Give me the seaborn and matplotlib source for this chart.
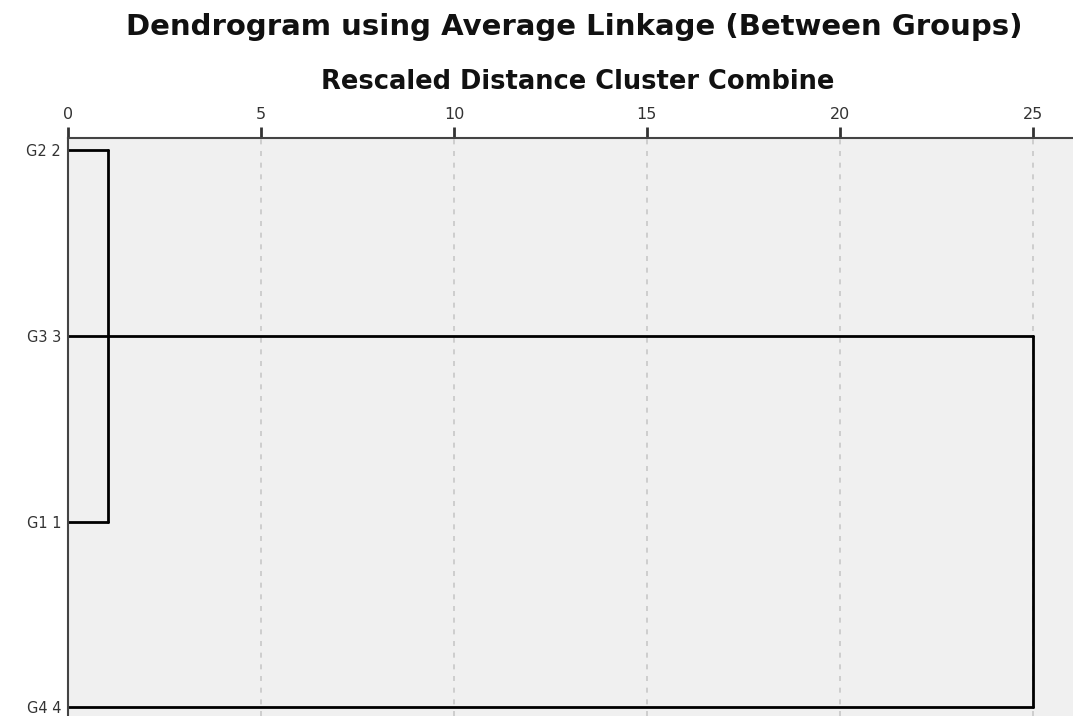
import pandas as pd
import numpy as np
import matplotlib.pyplot as plt
import seaborn as sns

# Leaves top -> bottom, and merge steps (rescaled distance)
leaves = ['G2 2', 'G3 3', 'G1 1', 'G4 4']
merge_a = ['G2 2', 'G2 2+G1 1', 'G2 2+G1 1+G3 3']
merge_b = ['G1 1', 'G3 3', 'G4 4']
merge_dist = [1.04, 1.04, 25.0]
x_ticks = [0, 5, 10, 15, 20, 25]

# Build dendrogram segments
pos = {name: i for i, name in enumerate(leaves)}
height = {name: 0.0 for name in leaves}
segs = []
sid = 0
for a, b, d in zip(merge_a, merge_b, merge_dist):
    for node in (a, b):
        segs += [(sid, height[node], pos[node]), (sid, d, pos[node])]
        sid += 1
    segs += [(sid, d, pos[a]), (sid, d, pos[b])]
    sid += 1
    new = a + '+' + b
    pos[new] = (pos[a] + pos[b]) / 2 if b != 'G3 3' else pos[b]
    height[new] = d
df = pd.DataFrame(segs, columns=['seg', 'dist', 'y'])

sns.set_theme(style="white")
plt.rcParams['font.family'] = ['DejaVu Sans']

fig = plt.figure(figsize=(10.73, 7.16), dpi=100)
ax = fig.add_axes([68 / 1073, 0.0, 1 - 68 / 1073, 0.807])
ax.set_facecolor('#f0f0f0')

sns.lineplot(data=df, x='dist', y='y', units='seg', estimator=None, sort=False,
             color='black', linewidth=2, ax=ax, legend=False)

for t in x_ticks[1:]:
    ax.axvline(t, color='#c8c8c8', linestyle=(0, (3, 4)), linewidth=1.2, zorder=0)

ax.set_xlim(0, 26.04)
ax.set_ylim(3.047, -0.065)
ax.xaxis.tick_top()
ax.set_xticks(x_ticks)
ax.set_yticks(range(len(leaves)))
ax.set_yticklabels(leaves)
ax.tick_params(axis='x', direction='out', length=8, width=2, color='#333333',
               labelsize=11.5, pad=4, top=True, labelcolor='#333333')
ax.tick_params(axis='y', left=True, length=0, labelsize=10.5, pad=5, labelcolor='#333333')
for s in ['right', 'bottom']:
    ax.spines[s].set_visible(False)
for s in ['top', 'left']:
    ax.spines[s].set_color('#444444')
    ax.spines[s].set_linewidth(1.5)
ax.set_xlabel('')
ax.set_ylabel('')

fig.text(0.535, 0.962, 'Dendrogram using Average Linkage (Between Groups)',
         ha='center', va='center', fontsize=21, fontweight='bold', color='#111111')
fig.text(0.538, 0.886, 'Rescaled Distance Cluster Combine',
         ha='center', va='center', fontsize=18.5, fontweight='bold', color='#111111')

plt.savefig('out.png', dpi=100)
